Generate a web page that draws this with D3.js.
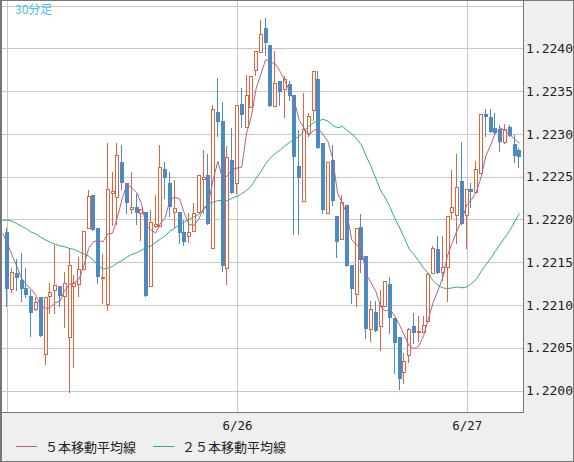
<!DOCTYPE html>
<html>
<head>
<meta charset="utf-8">
<script src="https://cdn.jsdelivr.net/npm/d3@7"></script>
<style>
body { margin: 0; background: #fff; }
svg { display: block; }
</style>
</head>
<body>
<svg width="574" height="462"></svg>
<script>
//	30-minute bars from 6/25 00:00, one entry per bar
var open = [
1.22185,1.22119,1.22137,1.22129,1.22120,1.22110,1.22095,1.22109,1.22043,1.22110,
1.22118,1.22122,1.22110,1.22062,1.22122,1.22125,1.22142,1.22190,1.22229,1.22190,
1.22132,1.22101,1.22231,1.22226,1.22267,1.22242,1.22212,1.22215,1.22207,1.22209,
1.22122,1.22192,1.22192,1.22259,1.22243,1.22209,1.22209,1.22185,1.22181,1.22187,
1.22209,1.22247,1.22252,1.22167,1.22325,1.22315,1.22143,1.22269,1.22243,1.22335,
1.22308,1.22331,1.22375,1.22396,1.22424,1.22404,1.22332,1.22362,1.22352,1.22358,
1.22345,1.22263,1.22221,1.22301,1.22328,1.22364,1.22289,1.22208,1.22269,1.22204,
1.22177,1.22217,1.22147,1.22113,1.22191,1.22157,1.22072,1.22092,1.22075,1.22099,
1.22125,1.22085,1.22062,1.22022,1.22041,1.22075,1.22068,1.22068,1.22081,1.22137,
1.22165,1.22139,1.22144,1.22209,1.22205,1.22245,1.22205,1.22236,1.22232,1.22254,
1.22323,1.22320,1.22307,1.22306,1.22290,1.22308,1.22288,1.22281];
var high = [
1.22190,1.22143,1.22154,1.22161,1.22143,1.22117,1.22109,1.22109,1.22109,1.22126,
1.22170,1.22122,1.22139,1.22166,1.22135,1.22156,1.22187,1.22234,1.22229,1.22190,
1.22159,1.22289,1.22255,1.22289,1.22287,1.22242,1.22255,1.22230,1.22212,1.22209,
1.22211,1.22228,1.22287,1.22267,1.22255,1.22246,1.22209,1.22199,1.22207,1.22219,
1.22252,1.22281,1.22277,1.22334,1.22365,1.22337,1.22286,1.22307,1.22334,1.22354,
1.22369,1.22368,1.22397,1.22433,1.22436,1.22404,1.22397,1.22362,1.22368,1.22362,
1.22345,1.22304,1.22348,1.22324,1.22373,1.22373,1.22289,1.22267,1.22287,1.22204,
1.22228,1.22217,1.22147,1.22190,1.22206,1.22157,1.22105,1.22105,1.22118,1.22128,
1.22133,1.22085,1.22062,1.22044,1.22073,1.22091,1.22087,1.22087,1.22137,1.22169,
1.22181,1.22181,1.22204,1.22258,1.22276,1.22291,1.22235,1.22242,1.22268,1.22323,
1.22329,1.22329,1.22324,1.22310,1.22311,1.22310,1.22299,1.22283];
var low = [
1.22099,1.22115,1.22117,1.22105,1.22109,1.22064,1.22094,1.22064,1.22031,1.22091,
1.22091,1.22099,1.22074,1.21998,1.22028,1.22110,1.22142,1.22190,1.22188,1.22126,
1.22102,1.22094,1.22194,1.22195,1.22236,1.22207,1.22207,1.22195,1.22176,1.22110,
1.22122,1.22191,1.22192,1.22225,1.22204,1.22191,1.22172,1.22170,1.22173,1.22187,
1.22209,1.22207,1.22195,1.22167,1.22298,1.22140,1.22125,1.22231,1.22231,1.22308,
1.22308,1.22331,1.22369,1.22396,1.22392,1.22332,1.22332,1.22334,1.22320,1.22339,
1.22183,1.22183,1.22221,1.22298,1.22316,1.22283,1.22207,1.22208,1.22217,1.22156,
1.22177,1.22146,1.22102,1.22099,1.22138,1.22061,1.22058,1.22069,1.22047,1.22099,
1.22067,1.22021,1.22002,1.22009,1.22033,1.22055,1.22058,1.22068,1.22081,1.22137,
1.22137,1.22129,1.22105,1.22202,1.22172,1.22195,1.22166,1.22214,1.22232,1.22254,
1.22297,1.22302,1.22301,1.22280,1.22289,1.22297,1.22267,1.22261];
var close = [
1.22119,1.22139,1.22131,1.22119,1.22112,1.22091,1.22104,1.22064,1.22109,1.22115,
1.22123,1.22110,1.22126,1.22147,1.22126,1.22142,1.22187,1.22227,1.22188,1.22133,
1.22133,1.22235,1.22233,1.22275,1.22242,1.22219,1.22215,1.22207,1.22212,1.22110,
1.22197,1.22195,1.22261,1.22248,1.22214,1.22213,1.22184,1.22174,1.22185,1.22207,
1.22252,1.22249,1.22195,1.22329,1.22314,1.22146,1.22273,1.22231,1.22334,1.22322,
1.22345,1.22368,1.22397,1.22417,1.22406,1.22332,1.22359,1.22349,1.22364,1.22344,
1.22273,1.22248,1.22306,1.22321,1.22373,1.22283,1.22211,1.22267,1.22222,1.22174,
1.22220,1.22146,1.22119,1.22190,1.22153,1.22072,1.22095,1.22069,1.22099,1.22128,
1.22085,1.22056,1.22014,1.22035,1.22072,1.22067,1.22070,1.22077,1.22136,1.22167,
1.22137,1.22144,1.22204,1.22214,1.22238,1.22195,1.22235,1.22232,1.22259,1.22323,
1.22320,1.22302,1.22301,1.22290,1.22306,1.22297,1.22274,1.22273];

//	moving averages, first value belongs to the bar just before the window
var ma5 = [1.22184,
1.22172,1.22158,1.22145,1.22131,1.22124,1.22118,1.22111,1.22098,1.22096,1.22097,
1.22103,1.22104,1.22117,1.22124,1.22126,1.22130,1.22146,1.22166,1.22174,1.22175,
1.22174,1.22183,1.22184,1.22202,1.22224,1.22241,1.22237,1.22232,1.22219,1.22193,
1.22188,1.22184,1.22195,1.22202,1.22223,1.22226,1.22224,1.22207,1.22194,1.22193,
1.22200,1.22213,1.22218,1.22246,1.22268,1.22247,1.22251,1.22259,1.22260,1.22261,
1.22301,1.22320,1.22353,1.22370,1.22387,1.22384,1.22382,1.22373,1.22362,1.22350,
1.22338,1.22316,1.22307,1.22298,1.22304,1.22306,1.22299,1.22291,1.22271,1.22231,
1.22219,1.22206,1.22176,1.22170,1.22166,1.22136,1.22126,1.22116,1.22098,1.22093,
1.22095,1.22087,1.22076,1.22064,1.22052,1.22049,1.22052,1.22064,1.22084,1.22103,
1.22117,1.22132,1.22158,1.22173,1.22187,1.22199,1.22217,1.22223,1.22232,1.22249,
1.22274,1.22287,1.22301,1.22307,1.22304,1.22299,1.22294,1.22289];
var ma25 = [1.22199,
1.22199,1.22198,1.22195,1.22192,1.22189,1.22185,1.22183,1.22179,1.22176,1.22173,
1.22171,1.22169,1.22168,1.22166,1.22165,1.22162,1.22160,1.22157,1.22152,1.22146,
1.22142,1.22143,1.22145,1.22149,1.22152,1.22156,1.22159,1.22161,1.22164,1.22167,
1.22169,1.22173,1.22177,1.22181,1.22186,1.22190,1.22194,1.22197,1.22200,1.22203,
1.22206,1.22211,1.22218,1.22220,1.22222,1.22222,1.22222,1.22225,1.22227,1.22230,
1.22234,1.22239,1.22248,1.22256,1.22265,1.22272,1.22277,1.22281,1.22286,1.22290,
1.22294,1.22297,1.22303,1.22309,1.22313,1.22315,1.22317,1.22315,1.22310,1.22307,
1.22309,1.22304,1.22300,1.22294,1.22287,1.22274,1.22262,1.22248,1.22234,1.22225,
1.22214,1.22201,1.22190,1.22178,1.22165,1.22159,1.22151,1.22143,1.22137,1.22128,
1.22123,1.22120,1.22119,1.22120,1.22121,1.22120,1.22121,1.22125,1.22130,1.22139,
1.22147,1.22154,1.22163,1.22171,1.22179,1.22187,1.22197,1.22207];

var priceGrid = [1.2200,1.2205,1.2210,1.2215,1.2220,1.2225,1.2230,1.2235,1.2240,1.2245];
var dayBars = [0, 48, 96],
	dayLabels = ["6/25", "6/26", "6/27"];
var legendNames = ["５本移動平均線", "２５本移動平均線"];
var title = "30分足";

var upColor = "#e0643c", downColor = "#4a8bc3",
	ma5Color = "#b55f8c", ma25Color = "#2bb07a";

var svg = d3.select("svg"),
	plot = {l: 2, t: 1, r: 523, b: 412};

var x = d3.scaleLinear().domain([0, 96]).range([7.3, 466.7]),  // 4.785px per bar
	y = d3.scaleLinear().domain([1.2200, 1.2240]).range([390.5, 48.3]);

//	panels
svg.append("rect").attr("width", 574).attr("height", 462).attr("fill", "#efefef");
svg.append("rect")
	.attr("x", plot.l).attr("y", plot.t)
	.attr("width", plot.r - plot.l).attr("height", plot.b - plot.t)
	.attr("fill", "#fff");

svg.append("clipPath").attr("id", "clip")
	.append("rect")
	.attr("x", plot.l).attr("y", plot.t)
	.attr("width", plot.r - plot.l).attr("height", plot.b - plot.t);

var g = svg.append("g").attr("clip-path", "url(#clip)");

//	grid
g.selectAll(".hgrid").data(priceGrid).enter().append("line")
	.attr("x1", plot.l).attr("x2", plot.r)
	.attr("y1", function(d) { return Math.round(y(d)) + 0.5; })
	.attr("y2", function(d) { return Math.round(y(d)) + 0.5; })
	.attr("stroke", "#c8c8c8");
g.selectAll(".vgrid").data(dayBars).enter().append("line")
	.attr("x1", function(d) { return Math.round(x(d)) + 0.5; })
	.attr("x2", function(d) { return Math.round(x(d)) + 0.5; })
	.attr("y1", plot.t).attr("y2", plot.b)
	.attr("stroke", "#c8c8c8");

//	candles
var bars = d3.range(open.length);
var candle = g.selectAll(".candle").data(bars).enter().append("g");

candle.append("line")
	.attr("x1", function(i) { return Math.round(x(i)) - 0.5; })
	.attr("x2", function(i) { return Math.round(x(i)) - 0.5; })
	.attr("y1", function(i) { return Math.round(y(high[i])); })
	.attr("y2", function(i) { return Math.round(y(low[i])) + 1; })
	.attr("stroke", function(i) { return close[i] >= open[i] ? upColor : downColor; });

candle.filter(function(i) { return close[i] >= open[i]; })
	.append("rect")
	.attr("x", function(i) { return Math.round(x(i)) - 1.5; })
	.attr("y", function(i) { return Math.round(y(close[i])) + 0.5; })
	.attr("width", 3)
	.attr("height", function(i) { return Math.max(0, Math.round(y(open[i])) - Math.round(y(close[i]))); })
	.attr("fill", "#fff")
	.attr("stroke", upColor);

candle.filter(function(i) { return close[i] < open[i]; })
	.append("rect")
	.attr("x", function(i) { return Math.round(x(i)) - 2; })
	.attr("y", function(i) { return Math.round(y(open[i])); })
	.attr("width", 4)
	.attr("height", function(i) { return Math.max(1, Math.round(y(close[i])) - Math.round(y(open[i]))); })
	.attr("fill", downColor);

//	moving averages
var line = d3.line()
	.x(function(d) { return x(d[0]); })
	.y(function(d) { return y(d[1]); });

g.append("path")
	.datum(ma25.map(function(v, k) { return [k - 1, v]; }))
	.attr("d", line).attr("fill", "none")
	.attr("stroke", ma25Color).attr("stroke-width", 1);
g.append("path")
	.datum(ma5.map(function(v, k) { return [k - 1, v]; }))
	.attr("d", line).attr("fill", "none")
	.attr("stroke", ma5Color).attr("stroke-width", 1);

//	title
svg.append("text")
	.attr("x", 15).attr("y", 14)
	.attr("font-family", "'Noto Sans CJK JP', sans-serif")
	.attr("font-size", 12)
	.attr("fill", "#3cc4f0")
	.text(title);

//	price axis
var yAxis = svg.append("g")
	.attr("transform", "translate(" + plot.r + ",0)")
	.call(d3.axisRight(y)
		.tickValues(priceGrid.filter(function(v) { return y(v) > 20; }))
		.tickSize(0).tickPadding(3)
		.tickFormat(d3.format(".4f")));
yAxis.select(".domain").remove();
yAxis.selectAll("text")
	.attr("font-family", "'DejaVu Sans Mono', monospace")
	.attr("font-size", 13).attr("fill", "#222");

//	date axis
var xAxis = svg.append("g")
	.attr("transform", "translate(0," + plot.b + ")")
	.call(d3.axisBottom(x)
		.tickValues(dayBars.filter(function(d) { return x(d) > 30; }))
		.tickSize(0).tickPadding(9)
		.tickFormat(function(d) { return dayLabels[dayBars.indexOf(d)]; }));
xAxis.select(".domain").remove();
xAxis.selectAll("text")
	.attr("font-family", "'DejaVu Sans Mono', monospace")
	.attr("font-size", 12.5).attr("fill", "#222");

//	frame
svg.append("rect")
	.attr("x", 0.5).attr("y", 0.5).attr("width", 573).attr("height", 461)
	.attr("fill", "none").attr("stroke", "#777");
svg.append("line").attr("x1", 1.5).attr("x2", 1.5).attr("y1", 0).attr("y2", 462).attr("stroke", "#777");
svg.append("line").attr("x1", plot.r + 0.5).attr("x2", plot.r + 0.5)
	.attr("y1", 0).attr("y2", plot.b + 1).attr("stroke", "#777");
svg.append("line").attr("x1", 0).attr("x2", plot.r + 1)
	.attr("y1", plot.b + 0.5).attr("y2", plot.b + 0.5).attr("stroke", "#777");

//	legend
var legend = svg.selectAll(".legend").data(legendNames).enter().append("g")
	.attr("transform", function(d, k) { return "translate(" + (16 + k * 137) + ",447)"; });
legend.append("line")
	.attr("x1", 0).attr("x2", 21).attr("y1", -0.5).attr("y2", -0.5)
	.attr("stroke", function(d, k) { return k ? ma25Color : ma5Color; });
legend.append("text")
	.attr("x", function(d, k) { return k ? 29 : 29; }).attr("y", 5)
	.attr("font-family", "'Noto Sans CJK JP', sans-serif")
	.attr("font-size", 13).attr("fill", "#222")
	.text(function(d) { return d; });
</script>
</body>
</html>
